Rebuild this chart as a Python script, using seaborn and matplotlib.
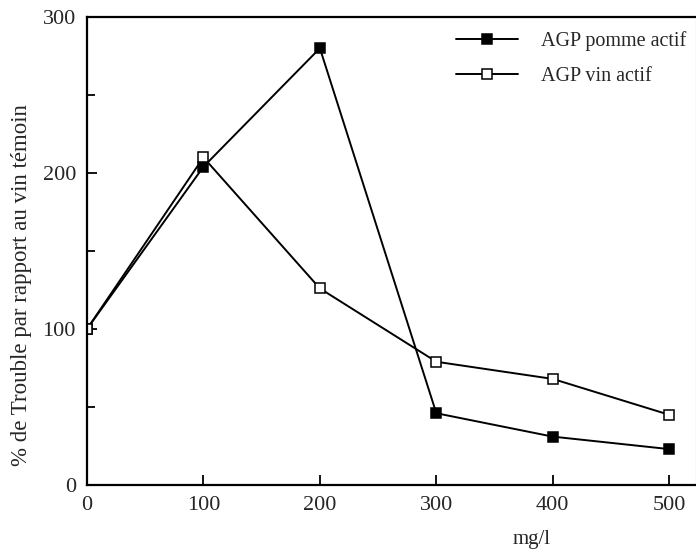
import matplotlib
matplotlib.use("Agg")
import matplotlib.pyplot as plt
import pandas as pd
import seaborn as sns

# Concentrations (mg/l)
doses = [0, 100, 200, 300, 400, 500]
# % de trouble par rapport au vin témoin
pomme_actif = [100, 204, 280, 46, 31, 23]
vin_actif = [100, 210, 126, 79, 68, 45]

df = pd.DataFrame({
    "mg/l": doses * 2,
    "trouble": pomme_actif + vin_actif,
    "serie": ["AGP pomme actif"] * len(doses) + ["AGP vin actif"] * len(doses),
})

sns.set_style("ticks")
plt.rcParams["font.family"] = ["Liberation Serif", "DejaVu Serif"]

fig = plt.figure(figsize=(6.96, 5.49), dpi=100)
ax = fig.add_axes([0.125, 0.1166, 0.875, 0.8524])

styles = {
    "AGP pomme actif": dict(markerfacecolor="black"),
    "AGP vin actif": dict(markerfacecolor="white"),
}
for name, grp in df.groupby("serie", sort=False):
    sns.lineplot(
        data=grp, x="mg/l", y="trouble", ax=ax, label=name,
        color="black", linewidth=1.4, marker="s", markersize=7,
        markeredgecolor="black", markeredgewidth=1.1, **styles[name],
    )

ax.set_xlim(0, 523)
ax.set_ylim(0, 300)
ax.set_xticks([0, 100, 200, 300, 400, 500])
ax.set_yticks([0, 100, 200, 300])
ax.set_yticks([50, 150, 250], minor=True)
ax.tick_params(axis="both", which="both", direction="in", labelsize=16,
               width=1.3, color="black")
ax.tick_params(axis="both", which="major", length=7, pad=8)
ax.tick_params(axis="y", which="minor", length=6)
for sp in ax.spines.values():
    sp.set_linewidth(1.6)
    sp.set_color("black")
ax.spines["right"].set_linewidth(0.8)
ax.spines["right"].set_color("#888888")

ax.set_xlabel("mg/l", fontsize=15)
ax.set_ylabel("% de Trouble par rapport au vin témoin", fontsize=16.5)
ax.xaxis.set_label_coords(0.73, -0.097)
ax.yaxis.set_label_coords(-0.091, 0.427)

leg = ax.legend(loc="upper right", bbox_to_anchor=(1.013, 1.009), frameon=False,
                fontsize=14.5, handlelength=3.1, handletextpad=1.1,
                labelspacing=0.8)

fig.savefig("out.png", dpi=100)
plt.close(fig)
